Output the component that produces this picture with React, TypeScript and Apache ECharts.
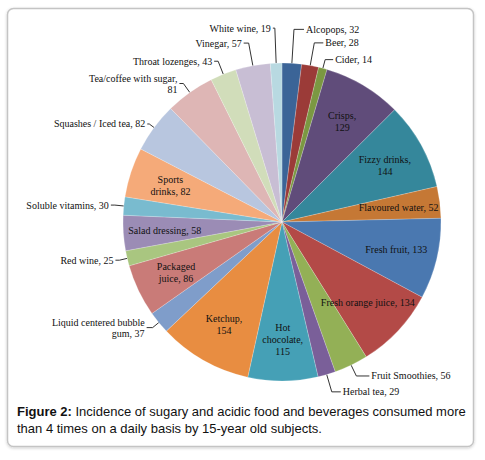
import React, { useEffect, useRef } from 'react';
import * as echarts from 'echarts';

// Items clockwise from 12 o'clock (Excel alphabetical order)
const categories = [
  'Alcopops', 'Beer', 'Cider', 'Crisps', 'Fizzy drinks', 'Flavoured water',
  'Fresh fruit', 'Fresh orange juice', 'Fruit Smoothies', 'Herbal tea',
  'Hot chocolate', 'Ketchup', 'Liquid centered bubble gum', 'Packaged juice',
  'Red wine', 'Salad dressing', 'Soluble vitamins', 'Sports drinks',
  'Squashes / Iced tea', 'Tea/coffee with sugar', 'Throat lozenges',
  'Vinegar', 'White wine',
];

const values = [
  32, 28, 14, 129, 144, 52, 133, 134, 56, 29, 115, 154, 37, 86, 25, 58, 30,
  82, 82, 81, 43, 57, 19,
];

const colors = [
  '#3b6497', '#9b3b38', '#7b9842', '#604c7a', '#35879b', '#c57835',
  '#4a78b0', '#b34a47', '#93b056', '#7a5f99', '#45a0b6', '#e88d41',
  '#7f9dca', '#c97b78', '#a9c680', '#9b8cb5', '#79bbcf', '#f5aa79',
  '#b8c6df', '#deb6b5', '#d1ddba', '#c8bed4', '#b8d9e1',
];

// how each label is written as it appears in the figure
const labelText = [
  'Alcopops, 32', 'Beer, 28', 'Cider, 14', 'Crisps,\n129', 'Fizzy drinks,\n144',
  'Flavoured water, 52', 'Fresh fruit, 133', 'Fresh orange juice, 134',
  'Fruit Smoothies, 56', 'Herbal tea, 29', 'Hot\nchocolate,\n115', 'Ketchup,\n154',
  'Liquid centered bubble\ngum, 37', 'Packaged\njuice, 86', 'Red wine, 25',
  'Salad dressing, 58', 'Soluble vitamins, 30', 'Sports\ndrinks, 82',
  'Squashes / Iced tea, 82', 'Tea/coffee with sugar,\n81', 'Throat lozenges, 43',
  'Vinegar, 57', 'White wine, 19',
];

const insideLabels = [
  'Crisps', 'Fizzy drinks', 'Flavoured water', 'Fresh fruit', 'Fresh orange juice',
  'Hot chocolate', 'Ketchup', 'Packaged juice', 'Salad dressing', 'Sports drinks',
];

// leader line lengths [radial, horizontal] for the outside labels
const leader: Record<string, [number, number]> = {
  'Alcopops': [34, 10],
  'Beer': [23, 9],
  'Cider': [9, 8],
  'Fruit Smoothies': [12, 13],
  'Herbal tea': [18, 9],
  'Liquid centered bubble gum': [8, 6],
  'Red wine': [8, 4],
  'Soluble vitamins': [9, 4],
  'Squashes / Iced tea': [6, 2],
  'Tea/coffee with sugar': [11, 4],
  'Throat lozenges': [14, 4],
  'Vinegar': [23, 5],
  'White wine': [35, 2],
};

const SERIF = "'Liberation Serif', serif";
const SANS = "'Liberation Sans', Arial, sans-serif";

const App: React.FC = () => {
  const chartRef = useRef<HTMLDivElement>(null);

  useEffect(() => {
    if (!chartRef.current) return;
    const chart = echarts.init(chartRef.current, undefined, { renderer: 'svg' });

    const center = [282, 222];
    const R = 159;

    const mainData = categories.map((name, i) => {
      const outside = !insideLabels.includes(name);
      const len = leader[name] || [10, 5];
      return {
        name,
        value: values[i],
        itemStyle: { color: colors[i] },
        label: { show: outside },
        labelLine: { show: outside, length: len[0], length2: len[1] },
      };
    });

    const overlayData = categories.map((name, i) => ({
      name,
      value: values[i],
      label: { show: insideLabels.includes(name) },
    }));

    chart.setOption({
      animation: false,
      graphic: [
        {
          type: 'rect',
          shape: { x: 7.5, y: 8.5, width: 466, height: 438, r: 6 },
          style: {
            fill: '#fff',
            stroke: '#c4c4c4',
            lineWidth: 1.5,
            shadowBlur: 3,
            shadowColor: 'rgba(0,0,0,0.2)',
            shadowOffsetY: 1,
          },
          z: -10,
        },
        {
          type: 'text',
          left: 17,
          top: 405,
          style: {
            text:
              '{b|Figure 2:} {n|Incidence of sugary and acidic food and beverages consumed more}\n{n|than 4 times on a daily basis by 15-year old subjects.}',
            rich: {
              b: { fontFamily: SANS, fontSize: 13, fontWeight: 'bold', fill: '#111', lineHeight: 17 },
              n: { fontFamily: SANS, fontSize: 13, fill: '#111', lineHeight: 17 },
            },
            fontFamily: SANS,
            fontSize: 13,
          },
        },
      ],
      series: [
        {
          type: 'pie',
          center,
          radius: [0, R],
          startAngle: 90,
          clockwise: true,
          avoidLabelOverlap: false,
          itemStyle: { borderColor: 'rgba(255,255,255,0.4)', borderWidth: 0.5 },
          label: {
            position: 'outside',
            formatter: (p: any) => labelText[p.dataIndex],
            fontFamily: SERIF,
            fontSize: 10,
            color: '#111',
            lineHeight: 11,
            distanceToLabelLine: 2,
          },
          labelLine: {
            lineStyle: { color: '#333', width: 1 },
          },
          emphasis: { disabled: true },
          data: mainData,
          z: 2,
        },
        {
          type: 'pie',
          center,
          radius: [70, R],
          startAngle: 90,
          clockwise: true,
          silent: true,
          avoidLabelOverlap: false,
          itemStyle: { color: 'transparent' },
          label: {
            position: 'inside',
            formatter: (p: any) => labelText[p.dataIndex],
            fontFamily: SERIF,
            fontSize: 10,
            color: '#111',
            lineHeight: 12,
          },
          labelLine: { show: false },
          emphasis: { disabled: true },
          data: overlayData,
          z: 3,
        },
      ],
    });

    return () => {
      chart.dispose();
    };
  }, []);

  return (
    <div
      ref={chartRef}
      style={{ position: 'fixed', left: 0, top: 0, width: '485px', height: '460px', background: '#fff' }}
    />
  );
};

export default App;
